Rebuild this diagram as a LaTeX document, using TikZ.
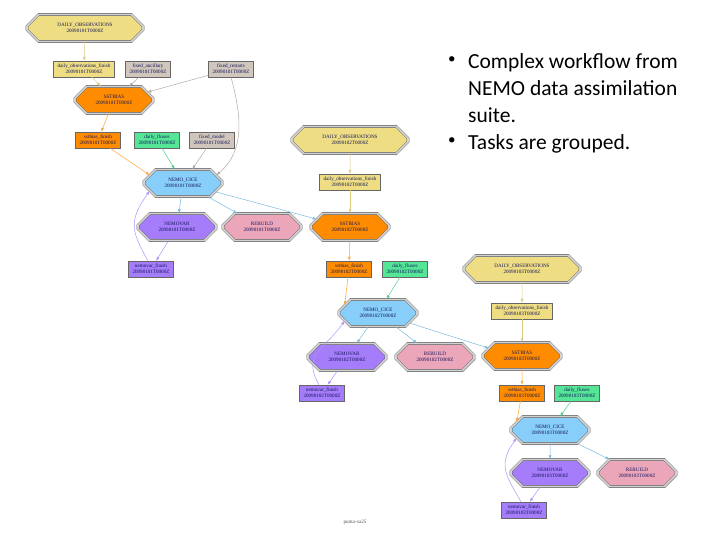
\documentclass[tikz,border=0pt]{standalone}
\usepackage{fontspec}
\setmainfont{Liberation Serif}
\newfontfamily\slidefont{Carlito}
\usetikzlibrary{shapes.misc,arrows.meta}
\definecolor{obsyellow}{RGB}{238,221,130}
\definecolor{fixgrey}{RGB}{208,198,188}
\definecolor{sstorange}{RGB}{255,140,0}
\definecolor{fluxgreen}{RGB}{84,230,150}
\definecolor{nemoblue}{RGB}{135,206,250}
\definecolor{varpurple}{RGB}{165,125,250}
\definecolor{rebpink}{RGB}{236,166,186}
\definecolor{labelnavy}{RGB}{20,20,90}
\newcommand\tasksize{\fontsize{5.1}{5.8}\selectfont}
\begin{document}
\begin{tikzpicture}[
  x=1pt, y=-1pt,
  task/.style = {shape=rectangle, draw=black!60, line width=0.4pt,
    align=center, font=\tasksize, text=labelnavy,
    inner xsep=4pt, inner ysep=1.5pt, minimum height=16pt},
  family/.style = {shape=chamfered rectangle,
    chamfered rectangle xsep=11pt, chamfered rectangle ysep=6pt,
    draw=black!65, line width=0.4pt, double=gray!35, double distance=1.8pt,
    align=center, font=\tasksize, text=labelnavy,
    minimum width=78pt, minimum height=27pt, inner sep=1pt},
  wide/.style = {minimum width=116pt},
  link/.style = {line width=0.5pt, -{Latex[length=4pt,width=3pt]}},
  bullet/.style = {font=\slidefont\fontsize{21.5}{27}\selectfont,
    anchor=north west, align=left, inner sep=0pt}
  ]
  \useasboundingbox (0,0) rectangle (720,540);

  % first cycle
  \node[family, wide, fill=obsyellow] (obs1) at (85,28) {DAILY\_OBSERVATIONS\\20090101T0000Z};
  \node[task, fill=obsyellow] (obsf1) at (84,69) {daily\_observations\_finish\\20090101T0000Z};
  \node[task, fill=fixgrey] (anc) at (148,69) {fixed\_ancillary\\20090101T0000Z};
  \node[task, fill=fixgrey] (rst) at (231,69) {fixed\_restarts\\20090101T0000Z};
  \node[family, fill=sstorange] (sst1) at (114,100) {SSTBIAS\\20090101T0000Z};
  \node[task, fill=sstorange] (sstf1) at (98,140) {sstbias\_finish\\20090101T0000Z};
  \node[task, fill=fluxgreen] (flx1) at (157,140) {daily\_fluxes\\20090101T0000Z};
  \node[task, fill=fixgrey] (mdl) at (212,140) {fixed\_model\\20090101T0000Z};
  \node[family, fill=nemoblue] (nc1) at (183,183) {NEMO\_CICE\\20090101T0000Z};
  \node[family, fill=varpurple] (nv1) at (177,227) {NEMOVAR\\20090101T0000Z};
  \node[family, fill=rebpink] (rb1) at (262,227) {REBUILD\\20090101T0000Z};
  \node[task, fill=varpurple] (nvf1) at (151,269) {nemovar\_finish\\20090101T0000Z};

  % second cycle
  \node[family, wide, fill=obsyellow] (obs2) at (350,140) {DAILY\_OBSERVATIONS\\20090102T0000Z};
  \node[task, fill=obsyellow] (obsf2) at (350,182) {daily\_observations\_finish\\20090102T0000Z};
  \node[family, fill=sstorange] (sst2) at (350,227) {SSTBIAS\\20090102T0000Z};
  \node[task, fill=sstorange] (sstf2) at (349,269) {sstbias\_finish\\20090102T0000Z};
  \node[task, fill=fluxgreen] (flx2) at (405,269) {daily\_fluxes\\20090102T0000Z};
  \node[family, fill=nemoblue] (nc2) at (378,313) {NEMO\_CICE\\20090102T0000Z};
  \node[family, fill=varpurple] (nv2) at (347,357) {NEMOVAR\\20090102T0000Z};
  \node[family, fill=rebpink] (rb2) at (435,357) {REBUILD\\20090102T0000Z};
  \node[task, fill=varpurple] (nvf2) at (322,393) {nemovar\_finish\\20090102T0000Z};

  % third cycle
  \node[family, wide, fill=obsyellow] (obs3) at (522,269) {DAILY\_OBSERVATIONS\\20090103T0000Z};
  \node[task, fill=obsyellow] (obsf3) at (522,311) {daily\_observations\_finish\\20090103T0000Z};
  \node[family, fill=sstorange] (sst3) at (522,356) {SSTBIAS\\20090103T0000Z};
  \node[task, fill=sstorange] (sstf3) at (522,393) {sstbias\_finish\\20090103T0000Z};
  \node[task, fill=fluxgreen] (flx3) at (577,393) {daily\_fluxes\\20090103T0000Z};
  \node[family, fill=nemoblue] (nc3) at (550,430) {NEMO\_CICE\\20090103T0000Z};
  \node[family, fill=varpurple] (nv3) at (550,473) {NEMOVAR\\20090103T0000Z};
  \node[family, fill=rebpink] (rb3) at (637,473) {REBUILD\\20090103T0000Z};
  \node[task, fill=varpurple] (nvf3) at (524,510) {nemovar\_finish\\20090103T0000Z};

  % dependencies
  \draw[link, obsyellow!80!gray] (obs1) -- (obsf1);
  \draw[link, obsyellow!80!gray] (obsf1) -- (sst1);
  \draw[link, fixgrey!85!black] (anc) -- (sst1);
  \draw[link, fixgrey!85!black] (rst) -- (sst1.north east);
  \draw[link, fixgrey!85!black] (rst.south) to[out=-75, in=40] (nc1.north east);
  \draw[link, sstorange!80] (sst1) -- (sstf1);
  \draw[link, sstorange!80] (sstf1) -- (nc1.north west);
  \draw[link, fluxgreen!90!black] (flx1) -- (nc1);
  \draw[link, fixgrey!85!black] (mdl) -- (nc1);
  \draw[link, nemoblue!90!black] (nc1) -- (nv1);
  \draw[link, nemoblue!90!black] (nc1) -- (rb1);
  \draw[link, nemoblue!90!black] (nc1) -- (sst2.north west);
  \draw[link, varpurple!85] (nv1) -- (nvf1);
  \draw[link, varpurple!85] (nvf1.110) to[out=120, in=235, looseness=1.3] (nc1.south west);

  \draw[link, obsyellow!80!gray] (obs2) -- (obsf2);
  \draw[link, obsyellow!80!gray] (obsf2) -- (sst2);
  \draw[link, sstorange!80] (sst2) -- (sstf2);
  \draw[link, sstorange!80] (sstf2) -- (nc2.north west);
  \draw[link, fluxgreen!90!black] (flx2) -- (nc2);
  \draw[link, nemoblue!90!black] (nc2) -- (nv2);
  \draw[link, nemoblue!90!black] (nc2) -- (rb2);
  \draw[link, nemoblue!90!black] (nc2) -- (sst3.north west);
  \draw[link, varpurple!85] (nv2) -- (nvf2);
  \draw[link, varpurple!85] (nvf2.110) to[out=120, in=235, looseness=1.3] (nc2.south west);

  \draw[link, obsyellow!80!gray] (obs3) -- (obsf3);
  \draw[link, obsyellow!80!gray] (obsf3) -- (sst3);
  \draw[link, sstorange!80] (sst3) -- (sstf3);
  \draw[link, sstorange!80] (sstf3) -- (nc3.north west);
  \draw[link, fluxgreen!90!black] (flx3) -- (nc3);
  \draw[link, nemoblue!90!black] (nc3) -- (nv3);
  \draw[link, nemoblue!90!black] (nc3) -- (rb3);
  \draw[link, varpurple!85] (nv3) -- (nvf3);
  \draw[link, varpurple!85] (nvf3.110) to[out=120, in=235, looseness=1.3] (nc3.south west);

  % slide text
  \node[font=\tasksize, text=black!70] (host) at (355,522) {puma-xa25};
  \node[bullet, font=\slidefont\fontsize{15}{27}\selectfont] (pt1) at (448,56) {\textbullet};
  \node[bullet] (txt1) at (468,53) {Complex workflow from\\NEMO data assimilation\\suite.};
  \node[bullet, font=\slidefont\fontsize{15}{27}\selectfont] (pt2) at (448,137) {\textbullet};
  \node[bullet] (txt2) at (468,134) {Tasks are grouped.};
\end{tikzpicture}
\end{document}
